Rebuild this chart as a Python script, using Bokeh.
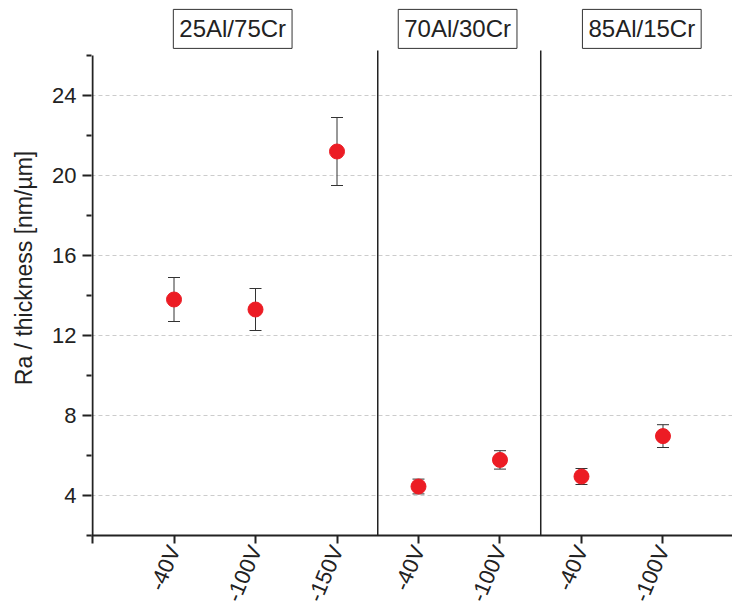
import math
from bokeh.plotting import figure
from bokeh.models import (ColumnDataSource, Whisker, FixedTicker, Label, Range1d)
from bokeh.embed import file_html
from bokeh.resources import INLINE

# ---- data ----
groups = ["25Al/75Cr", "70Al/30Cr", "85Al/15Cr"]
group_sizes = [3, 2, 2]
bias_labels = ["-40V", "-100V", "-150V", "-40V", "-100V", "-40V", "-100V"]
ra_thickness = [13.8, 13.3, 21.2, 4.45, 5.78, 4.95, 6.97]
ra_error = [1.1, 1.05, 1.7, 0.37, 0.46, 0.4, 0.57]
group_label_pos = [1.72, 4.48, 6.74]
y_major = [4, 8, 12, 16, 20, 24]
y_minor = [2, 6, 10, 14, 18, 22, 26]
y_min, y_max = 2, 26

FONT = "Liberation Sans"
DARK = "#222222"

xs = list(range(1, len(bias_labels) + 1))
src = ColumnDataSource(data=dict(
    x=xs, y=ra_thickness,
    upper=[v + e for v, e in zip(ra_thickness, ra_error)],
    lower=[v - e for v, e in zip(ra_thickness, ra_error)],
))

# frame extends above the axis top so the group boxes can sit inside it
p = figure(width=732, height=613, output_backend="svg", toolbar_location=None,
           x_range=Range1d(-0.0125, 7.853), y_range=Range1d(y_min, 28.75),
           min_border_left=91, min_border_right=0, min_border_top=0,
           min_border_bottom=78)
p.outline_line_color = None
p.background_fill_color = "white"
p.border_fill_color = "white"

# grid
p.xgrid.visible = False
p.ygrid.grid_line_color = "#cccccc"
p.ygrid.grid_line_dash = "4 3"
p.ygrid.grid_line_width = 1

# x axis
xt = [0] + xs
p.xaxis.ticker = FixedTicker(ticks=xt)
overrides = {0: ""}
for i, lab in zip(xs, bias_labels):
    overrides[i] = lab
p.xaxis.major_label_overrides = overrides
p.xaxis.major_label_orientation = math.radians(67)
p.xaxis.major_label_text_font = FONT
p.xaxis.major_label_text_font_size = "22px"
p.xaxis.major_label_text_color = DARK
p.xaxis.major_label_standoff = 3
p.xaxis.axis_line_width = 2
p.xaxis.major_tick_line_width = 2
p.xaxis.major_tick_in = 0
p.xaxis.major_tick_out = 8
p.xaxis.minor_tick_line_color = None
p.xaxis.axis_line_color = DARK
p.xaxis.major_tick_line_color = DARK

# y axis (line drawn separately so it stops at the top tick)
p.yaxis.ticker = FixedTicker(ticks=y_major, minor_ticks=y_minor)
p.yaxis.axis_label = "Ra / thickness [nm/µm]"
p.yaxis.axis_label_text_font = FONT
p.yaxis.axis_label_text_font_size = "23px"
p.yaxis.axis_label_text_font_style = "normal"
p.yaxis.axis_label_text_color = DARK
p.yaxis.axis_label_standoff = 12
p.yaxis.major_label_text_font = FONT
p.yaxis.major_label_text_font_size = "22px"
p.yaxis.major_label_text_color = DARK
p.yaxis.major_label_standoff = 6
p.yaxis.axis_line_color = None
p.yaxis.major_tick_line_width = 2
p.yaxis.minor_tick_line_width = 2
p.yaxis.major_tick_in = 0
p.yaxis.major_tick_out = 9
p.yaxis.minor_tick_in = 0
p.yaxis.minor_tick_out = 5
p.yaxis.major_tick_line_color = DARK
p.yaxis.minor_tick_line_color = DARK

p.segment(x0=[0], y0=[y_min], x1=[0], y1=[y_max], line_color=DARK, line_width=2)

# group separators
bounds = []
acc = 0
for n in group_sizes[:-1]:
    acc += n
    bounds.append(acc + 0.5)
p.segment(x0=bounds, y0=[y_min] * len(bounds), x1=bounds,
          y1=[y_max + 0.25] * len(bounds), line_color=DARK, line_width=1.5)

# error bars
wh = Whisker(source=src, base="x", upper="upper", lower="lower",
             line_color="#333333", line_width=1)
wh.upper_head.size = 12
wh.lower_head.size = 12
wh.upper_head.line_color = "#333333"
wh.lower_head.line_color = "#333333"
p.add_layout(wh)

p.scatter("x", "y", source=src, size=15, fill_color="#ec1c24",
          line_color="#ec1c24", line_width=1)

# group labels
for g, gx in zip(groups, group_label_pos):
    p.add_layout(Label(x=gx, y=27.33, text=g, text_align="center",
                       text_baseline="middle", text_font=FONT,
                       text_font_size="24px", text_color=DARK,
                       border_line_color="#333333", border_line_width=1,
                       background_fill_color="white", padding=6))

open("out.html", "w").write(file_html(p, INLINE))
